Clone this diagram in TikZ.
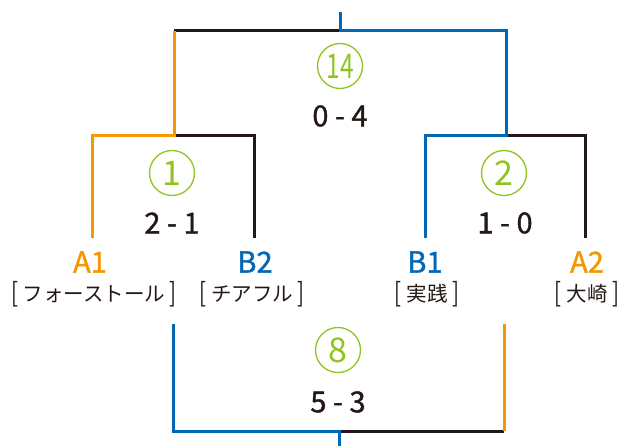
\documentclass[tikz,border=0pt]{standalone}
\usepackage{fontspec}
\setmainfont{Noto Sans CJK JP}
\newfontfamily\heavyfont[FakeBold=1.2]{Noto Sans CJK JP}
\definecolor{orng}{HTML}{F39800}
\definecolor{blu}{HTML}{0068B7}
\definecolor{blk}{HTML}{231815}
\definecolor{grn}{HTML}{8FC31F}
\newcommand{\tallbr}[1]{\raisebox{-1pt}{\scalebox{1}[1.3]{#1}}}
\begin{document}
\begin{tikzpicture}[x=1pt,y=-1pt,
  line/.style={line width=3pt},
  olin/.style={line, draw=orng},
  blin/.style={line, draw=blu},
  klin/.style={line, draw=blk},
  rnd/.style={circle, draw=grn, line width=1.3pt, minimum size=45pt, inner sep=0pt,
    text=grn, font=\fontsize{34}{34}\selectfont},
  score/.style={text=blk, font=\heavyfont\fontsize{29}{29}\selectfont, inner sep=0pt},
  team/.style={font=\heavyfont\fontsize{29}{29}\selectfont, inner sep=0pt},
  club/.style={text=blk, font=\fontsize{20.5}{20.5}\selectfont, inner sep=0pt}]
\useasboundingbox (0,0) rectangle (624,446);
% coordinates
\coordinate (top) at (340,12);
\coordinate (tj) at (340,31);
\coordinate (tl) at (174,31);
\coordinate (tr) at (506,31);
\coordinate (lj) at (174,136);
\coordinate (rj) at (506,136);
\coordinate (l1) at (92,136);
\coordinate (l2) at (254,136);
\coordinate (r1) at (425,136);
\coordinate (r2) at (585,136);
\coordinate (l1b) at (92,238);
\coordinate (l2b) at (254,238);
\coordinate (r1b) at (425,238);
\coordinate (r2b) at (585,238);
\coordinate (b1t) at (173,324);
\coordinate (b2t) at (504,324);
\coordinate (b1) at (173,431);
\coordinate (b2) at (504,431);
\coordinate (bj) at (339,431);
\coordinate (bot) at (339,446);
% lines
\draw[klin] (tl) -- (tj);
\draw[klin] (lj) -- (l2) -- (l2b);
\draw[klin] (rj) -- (r2) -- (r2b);
\draw[klin] (bj) -- (b2);
\draw[blin] (top) -- (tj) -- (tr) -- (rj) -- (r1) -- (r1b);
\draw[olin] (tl) -- (lj) -- (l1) -- (l1b);
\draw[blin] (b1t) -- (b1) -- (bj) -- (bot);
\draw[olin] (b2t) -- (b2);
% rounds
\node[rnd] (c14) at (340,66) {\scalebox{0.72}[1]{14}};
\node[score] (s14) at (340,116) {0 - 4};
\node[rnd] (c1) at (172,173) {1};
\node[score] (s1) at (172,223) {2 - 1};
\node[rnd] (c2) at (504,173) {2};
\node[score] (s2) at (505,223) {1 - 0};
\node[rnd] (c8) at (338,350) {8};
\node[score] (s8) at (338,402) {5 - 3};
% teams
\node[team, text=orng] (a1) at (90,262) {A1};
\node[team, text=blu] (bb2) at (255,262) {B2};
\node[team, text=blu] (bb1) at (425,262) {B1};
\node[team, text=orng] (a2) at (587,262) {A2};
\node[club] (n1) at (94,294) {\tallbr{[} フォーストール \tallbr{]}};
\node[club] (n2) at (252,294) {\tallbr{[} チアフル \tallbr{]}};
\node[club] (n3) at (427,294) {\tallbr{[} 実践 \tallbr{]}};
\node[club] (n4) at (587,294) {\tallbr{[} 大崎 \tallbr{]}};
\end{tikzpicture}
\end{document}
